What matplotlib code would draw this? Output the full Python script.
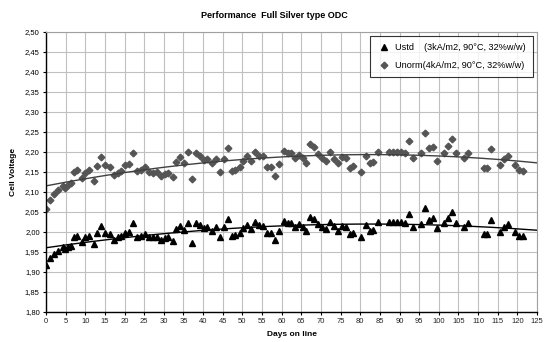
import numpy as np
import matplotlib
matplotlib.use("Agg")
import matplotlib.pyplot as plt
from matplotlib.ticker import FuncFormatter, MultipleLocator

plt.rcParams["font.family"] = ["Liberation Sans", "DejaVu Sans"]

days = [0, 1.0, 2.0, 3.1, 4.3, 4.8, 5.7, 6.3, 7.0, 8.0, 9.1, 9.9, 11.0, 12.1, 13.1,
        14.0, 15.1, 16.2, 17.2, 18.2, 19.0, 20.2, 21.0, 22.1, 23.1, 24.1, 25.3, 26.1,
        27.2, 28.2, 29.3, 30.4, 31.1, 32.3, 33.2, 34.2, 35.2, 36.2, 37.2, 38.2, 39.3,
        40.3, 41.1, 42.3, 43.3, 44.2, 45.3, 46.3, 47.4, 48.2, 49.3, 50.2, 51.2, 52.2,
        53.2, 54.3, 55.3, 56.3, 57.3, 58.3, 59.3, 60.5, 61.6, 62.4, 63.3, 64.4, 65.4,
        66.3, 67.2, 68.2, 69.2, 70.3, 71.4, 72.3, 73.3, 74.3, 75.3, 76.3, 77.3, 78.2,
        80.3, 81.4, 82.4, 83.3, 84.4, 87.3, 88.3, 89.3, 90.3, 91.3, 92.3, 93.4, 95.4,
        96.4, 97.4, 98.5, 99.5, 101.4, 102.4, 103.4, 104.4, 106.5, 107.5, 111.4, 112.4,
        113.4, 115.5, 116.5, 117.5, 119.5, 120.5, 121.5]

ustd = [1.9175, 1.934, 1.945, 1.953, 1.962, 1.957, 1.962, 1.965, 1.988, 1.99, 1.976,
        1.987, 1.99, 1.97, 1.997, 2.015, 1.998, 1.995, 1.98, 1.987, 1.99, 1.998, 2.001,
        2.022, 1.988, 1.99, 1.995, 1.988, 1.987, 1.987, 1.98, 1.984, 1.987, 1.978, 2.007,
        2.015, 2.005, 2.023, 1.973, 2.023, 2.0175, 2.009, 2.013, 2.003, 2.013, 1.988,
        2.013, 2.032, 1.99, 1.9925, 1.997, 2.009, 2.0175, 2.007, 2.026, 2.0175, 2.015,
        1.997, 1.997, 1.98, 2.003,
        2.028, 2.022, 2.0225, 2.013, 2.02, 2.013, 2.003, 2.038, 2.032, 2.02, 2.013,
        2.008, 2.024, 2.015, 2.003, 2.015, 2.012, 1.995, 1.998, 1.987, 2.0175, 2.003,
        2.005, 2.026, 2.026, 2.026, 2.026, 2.026, 2.022, 2.045, 2.013, 2.02, 2.061,
        2.031, 2.036, 2.01, 2.022, 2.036, 2.049, 2.022, 2.013, 2.022, 1.995, 1.995,
        2.031, 2.0, 2.012, 2.019, 2.0, 1.99, 1.99]

unorm = [2.0575, 2.08, 2.095, 2.105, 2.115, 2.109, 2.1175, 2.123, 2.151, 2.155, 2.134,
         2.148, 2.155, 2.128, 2.165, 2.188, 2.1675, 2.163, 2.1425, 2.148, 2.153, 2.1675,
         2.17, 2.197, 2.153, 2.155, 2.163, 2.151, 2.147, 2.151, 2.14, 2.145, 2.147,
         2.138, 2.176, 2.187, 2.173, 2.2, 2.132, 2.198, 2.19, 2.18, 2.183, 2.173, 2.183,
         2.151, 2.183, 2.209, 2.153, 2.156, 2.163, 2.178, 2.191, 2.178, 2.201, 2.189,
         2.189, 2.162, 2.163, 2.14, 2.17,
         2.203, 2.197, 2.198, 2.184, 2.1925, 2.184, 2.172, 2.22, 2.212, 2.195, 2.184,
         2.178, 2.2, 2.182, 2.172, 2.188, 2.184, 2.159, 2.165, 2.151, 2.19, 2.173,
         2.176, 2.201, 2.201, 2.201, 2.201, 2.201, 2.198, 2.2275, 2.184, 2.197, 2.247,
         2.209, 2.213, 2.178, 2.197, 2.215, 2.233, 2.197, 2.184, 2.197, 2.161, 2.161,
         2.208, 2.167, 2.182, 2.19, 2.167, 2.155, 2.1525]

label_std = "Ustd    (3kA/m2, 90°C, 32%w/w)"
label_norm = "Unorm(4kA/m2, 90°C, 32%w/w)"

fig = plt.figure(figsize=(5.44, 3.42), dpi=100)
ax = fig.add_axes([0.0846, 0.0877, 0.9025, 0.8187])

ax.plot(days, ustd, linestyle="none", marker="^", ms=4.6, color="black", label=label_std)
ax.plot(days, unorm, linestyle="none", marker="D", ms=3.4, color="#555555", label=label_norm)

# polynomial trend lines (Excel style), drawn over the full axis range
xfit = np.linspace(0, 125, 200)
for vals, col in [(ustd, "black"), (unorm, "#404040")]:
    coef = np.polyfit(days, vals, 2)
    ax.plot(xfit, np.polyval(coef, xfit), color=col, lw=1.0)

ax.set_xlim(0, 125)
ax.set_ylim(1.80, 2.50)
ax.xaxis.set_major_locator(MultipleLocator(5))
ax.yaxis.set_major_locator(MultipleLocator(0.05))
ax.yaxis.set_major_formatter(FuncFormatter(lambda v, p: f"{v:.2f}".replace(".", ",")))
ax.grid(True, color="#c0c0c0", lw=0.8)
ax.set_axisbelow(True)
ax.tick_params(labelsize=5.5, length=2.5, width=0.8, pad=2, colors="black")
ax.tick_params(axis="x", labelcolor="#222222")
for s in ["top", "right"]:
    ax.spines[s].set_color("#a0a0a0")
for s in ["left", "bottom"]:
    ax.spines[s].set_color("black")
    ax.spines[s].set_linewidth(1.0)

ax.set_xlabel("Days on line", fontsize=6, fontweight="bold", labelpad=4)
ax.set_ylabel("Cell Voltage", fontsize=6, fontweight="bold", labelpad=6)
fig.text(0.505, 0.955, "Performance  Full Silver type ODC", fontsize=6.5,
         fontweight="bold", ha="center", va="center")

leg = ax.legend(loc="upper right", bbox_to_anchor=(0.992, 0.987), fontsize=6.6,
                frameon=True, fancybox=False, edgecolor="black", borderpad=0.8,
                labelspacing=1.0, handletextpad=0.5, handlelength=1.4, borderaxespad=0)
leg.get_frame().set_linewidth(0.8)

fig.savefig("out.png", dpi=100)
